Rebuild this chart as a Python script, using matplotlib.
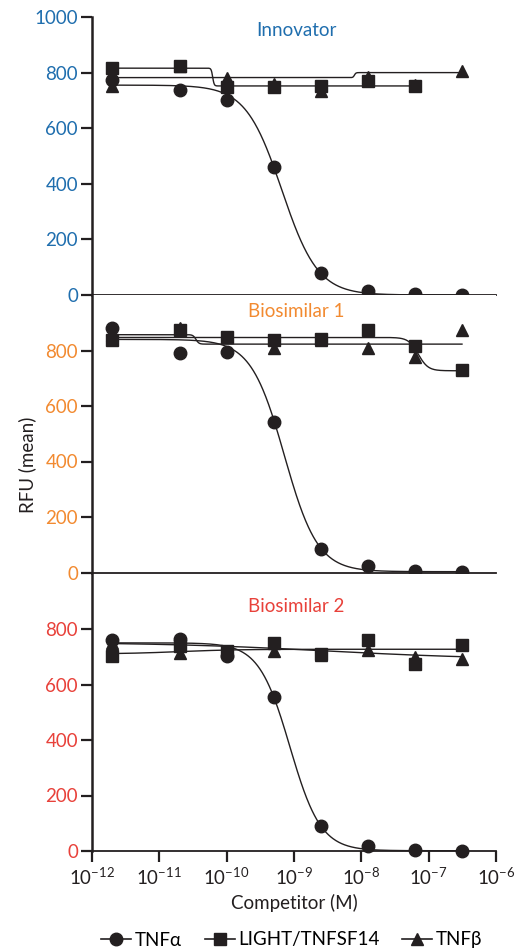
import numpy as np
import matplotlib
matplotlib.use("Agg")
import matplotlib.pyplot as plt
from matplotlib.lines import Line2D
from matplotlib.ticker import FixedLocator, FuncFormatter, NullLocator

plt.rcParams['font.family'] = ['Lato', 'DejaVu Sans']
plt.rcParams['mathtext.fontset'] = 'custom'
plt.rcParams['mathtext.rm'] = 'Lato'
plt.rcParams['mathtext.it'] = 'Lato:italic'
plt.rcParams['mathtext.bf'] = 'Lato:bold'

# ---------------- data ----------------
conc = [2e-12, 2e-11, 1e-10, 5e-10, 2.5e-9, 1.25e-8, 6.25e-8, 3.125e-7]
series_names = ["TNFα", "LIGHT/TNFSF14", "TNFβ"]
panel_titles = ["Innovator", "Biosimilar 1", "Biosimilar 2"]
panel_colors = ["#1f6eae", "#f28a30", "#e8413a"]

innov_tnfa = [774, 738, 702, 460, 78, 14, 4, 1]
innov_light = [816, 822, 748, 748, 753, 768, 750, np.nan]
innov_tnfb = [750, 825, 780, 760, 733, 785, 755, 804]

bio1_tnfa = [881, 790, 796, 544, 84, 23, 5, 2]
bio1_light = [839, 875, 850, 839, 842, 875, 815, 730]
bio1_tnfb = [855, 882, 848, 808, 838, 808, 778, 875]

bio2_tnfa = [760, 763, 703, 556, 90, 17, 3, 1]
bio2_light = [703, 738, 722, 751, 710, 760, 673, 742]
bio2_tnfb = [748, 712, 718, 722, 708, 724, 698, 691]

# 4-parameter logistic fit parameters: (left plateau, right plateau, EC50, Hill)
innov_fit_tnfa = (755, 0, 6.6e-10, 1.62)
innov_fit_light = (816, 752, 6.2e-11, 40)
innov_fit_tnfb = (782, 800, 7.9e-9, 40)

bio1_fit_tnfa = (840, 3, 7.2e-10, 1.75)
bio1_fit_light = (847, 727, 7.0e-8, 6)
bio1_fit_tnfb = (857, 823, 3.5e-11, 20)

bio2_fit_tnfa = (750, 1, 8.7e-10, 1.89)
bio2_fit_light = (710, 727, 2.0e-11, 1.0)
bio2_fit_tnfb = (752, 690, 3.0e-9, 0.35)

panels = [
    (innov_tnfa, innov_light, innov_tnfb, innov_fit_tnfa, innov_fit_light, innov_fit_tnfb),
    (bio1_tnfa, bio1_light, bio1_tnfb, bio1_fit_tnfa, bio1_fit_light, bio1_fit_tnfb),
    (bio2_tnfa, bio2_light, bio2_tnfb, bio2_fit_tnfa, bio2_fit_light, bio2_fit_tnfb),
]
yticks_list = [[0, 200, 400, 600, 800, 1000], [0, 200, 400, 600, 800], [0, 200, 400, 600, 800]]
xticks = [1e-12, 1e-11, 1e-10, 1e-9, 1e-8, 1e-7, 1e-6]


def four_pl(x, p):
    top, bottom, ec50, hill = p
    return bottom + (top - bottom) / (1.0 + (x / ec50) ** hill)


# ---------------- figure ----------------
W, H = 526, 952
fig = plt.figure(figsize=(W / 100, H / 100), dpi=100)
ink = "#231f20"
left = 92 / W
width = (496 - 92) / W
panel_px = [(17, 295), (295, 572.5), (573.5, 851)]
title_y = [0.953, 0.939, 0.881]
markers = ["o", "s", "^"]
msize = [9, 8.5, 9]

axes = []
for i, (ytop, ybot) in enumerate(panel_px):
    ax = fig.add_axes([left, 1 - ybot / H, width, (ybot - ytop) / H])
    axes.append(ax)
    ax.set_xscale("log")
    ax.set_xlim(1e-12, 1e-6)
    ax.set_ylim(0, 1000)
    for s in ("top", "right"):
        ax.spines[s].set_visible(False)
    ax.spines["left"].set_linewidth(1.8)
    ax.spines["left"].set_color(ink)
    ax.spines["bottom"].set_linewidth(1.3)
    ax.spines["bottom"].set_color(ink)
    ax.set_yticks(yticks_list[i])
    ax.tick_params(axis="y", direction="out", length=8, width=1.6, color=ink,
                   labelsize=13.5, labelcolor=panel_colors[i], pad=2)
    ax.xaxis.set_minor_locator(NullLocator())
    if i < 2:
        ax.tick_params(axis="x", which="both", bottom=False, labelbottom=False)
    else:
        ax.xaxis.set_major_locator(FixedLocator(xticks))
        ax.xaxis.set_major_formatter(FuncFormatter(
            lambda v, pos: r"$\mathregular{10^{%d}}$" % int(round(np.log10(v)))))
        ax.tick_params(axis="x", direction="out", length=8, width=1.6, color=ink,
                       labelsize=13.5, labelcolor=ink, pad=3)
        ax.set_xlabel("Competitor (M)", fontsize=13.5, color=ink, labelpad=5)

    ax.text(0.505, title_y[i], panel_titles[i], transform=ax.transAxes,
            ha="center", va="center", fontsize=13.5, color=panel_colors[i])

    tnfa, light, tnfb, f_a, f_l, f_b = panels[i]
    data = [tnfa, light, tnfb]
    fits = [f_a, f_l, f_b]
    order = [2, 0, 1]  # triangles below circles below squares
    for z, k in enumerate(order):
        y = np.array(data[k], dtype=float)
        x = np.array(conc)
        valid = ~np.isnan(y)
        xs = np.logspace(np.log10(x[valid][0]), np.log10(x[valid][-1]), 600)
        ax.plot(xs, four_pl(xs, fits[k]), color=ink, lw=1.0, zorder=3, clip_on=False)
        ax.plot(x[valid], y[valid], linestyle="none", marker=markers[k],
                markersize=msize[k], color=ink, zorder=4 + z, clip_on=False)

fig.text(27 / W, 1 - 465 / H, "RFU (mean)", rotation=90, ha="center", va="center",
         fontsize=13.5, color=ink)

handles = [Line2D([], [], color=ink, lw=1.2, marker=m, markersize=ms)
           for m, ms in zip(markers, msize)]
fig.legend(handles, series_names, loc="center", bbox_to_anchor=(292 / W, 1 - 940 / H),
           ncol=3, frameon=False, fontsize=13.5, handlelength=1.6, handletextpad=0.2,
           columnspacing=1.2, borderaxespad=0, borderpad=0)

fig.savefig("out.png", dpi=100)
